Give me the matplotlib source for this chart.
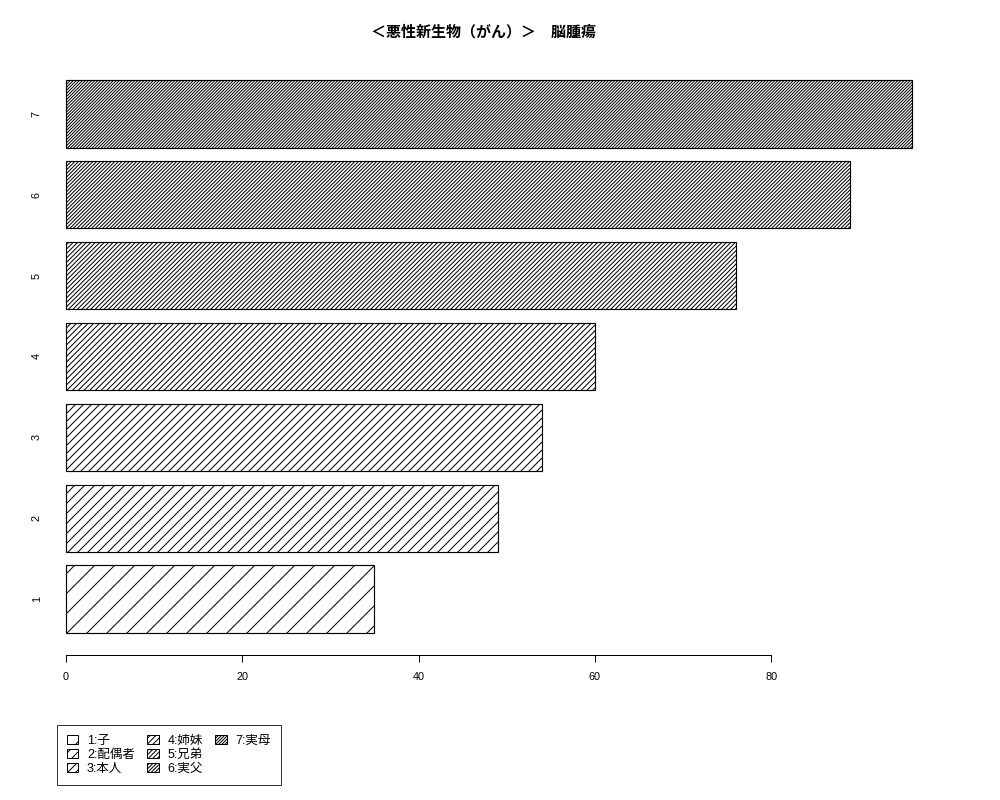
import matplotlib
matplotlib.use("Agg")
import matplotlib.pyplot as plt
from matplotlib.patches import Patch

plt.rcParams['font.family'] = ['Liberation Sans', 'Noto Sans CJK JP', 'DejaVu Sans']
plt.rcParams['hatch.linewidth'] = 0.6

title = '＜悪性新生物（がん）＞　脳腫瘍'
categories = ['1', '2', '3', '4', '5', '6', '7']
values = [35, 49, 54, 60, 76, 89, 96]
legend_labels = ['1:子', '2:配偶者', '3:本人', '4:姉妹', '5:兄弟', '6:実父', '7:実母']
hatches = ['//', '////', '/////', '///////', '/////////', '///////////', '/////////////']
xticks = [0, 20, 40, 60, 80]

dpi = 120
fig = plt.figure(figsize=(1000 / dpi, 800 / dpi), dpi=dpi)
ax = fig.add_axes([0.040, 1 - 655 / 800, 0.906, (655 - 58) / 800])

# R-style bar layout: width 1, space 0.2
width, space = 1.0, 0.2
ypos = [space + width / 2 + i * (width + space) for i in range(len(values))]

for y, v, h in zip(ypos, values, hatches):
    ax.barh(y, v, height=width, left=0, color='white', edgecolor='black',
            hatch=h, linewidth=0.7)

ymin = space
ymax = ypos[-1] + width / 2
yext = 0.04 * (ymax - ymin)
ax.set_ylim(ymin - yext, ymax + yext)
ax.set_xlim(-2.95, 99.84)

for s in ['top', 'right', 'left']:
    ax.spines[s].set_visible(False)
ax.spines['bottom'].set_bounds(xticks[0], xticks[-1])
ax.spines['bottom'].set_linewidth(0.6)
ax.set_xticks(xticks)
ax.set_xticklabels([str(t) for t in xticks], fontsize=6.5)
ax.tick_params(axis='x', length=4.2, width=0.6, pad=6)

ax.set_yticks(ypos)
ax.set_yticklabels(categories, fontsize=6.5, rotation=90, va='center')
ax.tick_params(axis='y', length=0, pad=-1)

ax.set_title(title, fontsize=9, fontweight='bold', pad=13, x=0.49)

handles = [Patch(facecolor='white', edgecolor='black', hatch=h, linewidth=0.6)
           for h in hatches]
labels = list(legend_labels)
# two blank entries so the columns fill 3, 3, 1 like the original
for _ in range(2):
    handles.append(Patch(facecolor='none', edgecolor='none'))
    labels.append('')
leg = fig.legend(handles, labels, loc='upper left', ncol=3,
                 bbox_to_anchor=(0.057, 1 - 725 / 800), bbox_transform=fig.transFigure,
                 borderaxespad=0, fontsize=7.5, frameon=True, fancybox=False,
                 handlelength=0.9, handleheight=0.65, handletextpad=0.7,
                 columnspacing=1.0, labelspacing=0.15, borderpad=0.8)
leg.get_frame().set_edgecolor('black')
leg.get_frame().set_linewidth(0.6)

fig.savefig('out.png', dpi=dpi)
